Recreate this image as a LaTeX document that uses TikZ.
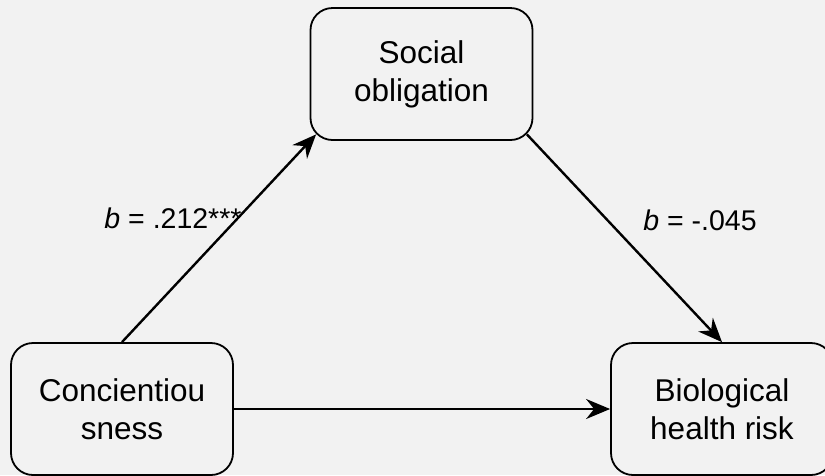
\documentclass[tikz,border=0pt]{standalone}
\usepackage{fontspec}
\setmainfont{Liberation Sans}
\usetikzlibrary{arrows.meta, calc, positioning}
\definecolor{bggray}{RGB}{242,242,242}

\begin{document}
\begin{tikzpicture}
  [x=1pt, y=-1pt,
   box/.style = {
     rectangle, rounded corners=22pt, draw=black, line width=1.8pt,
     fill=bggray, align=center, inner sep=0pt,
     minimum width=222pt, minimum height=132pt,
     font=\fontsize{31.5}{38}\selectfont},
   path/.style = {line width=2.4pt, -{Stealth[length=24pt, width=20pt, inset=8pt]}},
   lbl/.style = {font=\fontsize{28.5}{34}\selectfont, inner sep=0pt}
  ]
  \fill[bggray] (0,0) rectangle (825,475);
  \useasboundingbox (0,0) rectangle (825,475);
  \clip (0,0) rectangle (825,475);
  \node[box](social) at (421.5,74) {Social\\obligation};
  \node[box](consc) at (122,409) {Concientiou\\sness};
  \node[box](health) at (722,409) {Biological\\health risk};
  \draw[path] (consc.north) -- ($(social.south west)+(6.5,-6.5)$);
  \draw[path] ($(social.south east)+(-6.5,-6.5)$) -- (health.north);
  \draw[path] (consc.east) -- (health.west);
  \node[lbl](a) at (173,218) {\textit{b} = .212***};
  \node[lbl](b) at (700,220) {\textit{b} = -.045};
\end{tikzpicture}
\end{document}
